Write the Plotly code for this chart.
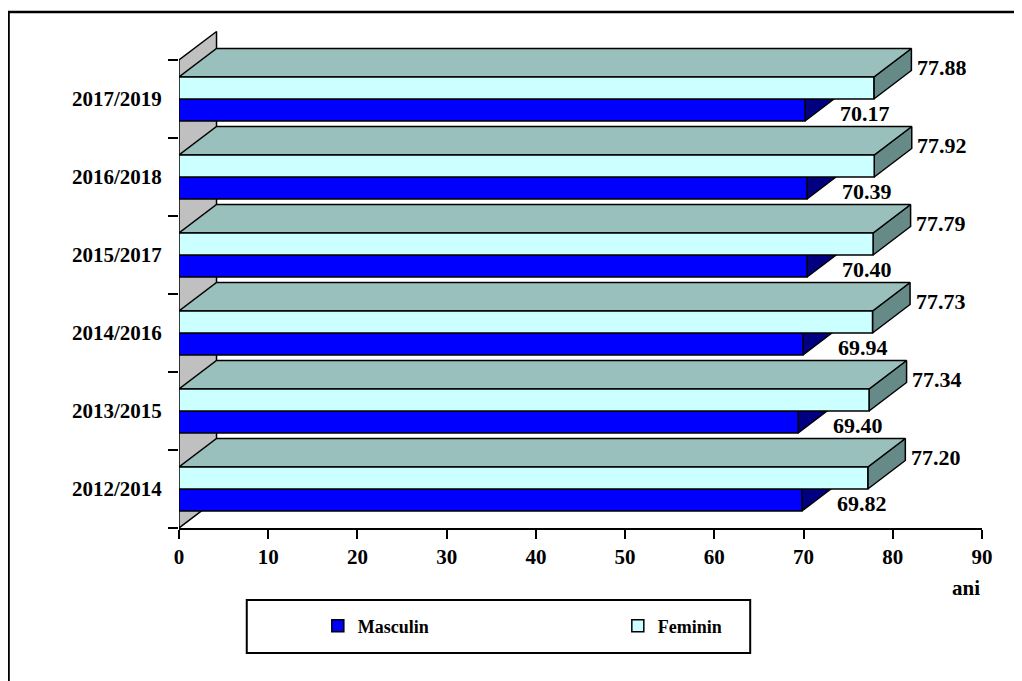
import plotly.graph_objects as go

# ---------------- data ----------------
categories = ["2012/2014", "2013/2015", "2014/2016", "2015/2017", "2016/2018", "2017/2019"]
masculin = [69.82, 69.40, 69.94, 70.40, 70.39, 70.17]
feminin = [77.20, 77.34, 77.73, 77.79, 77.92, 77.88]
x_ticks = [0, 10, 20, 30, 40, 50, 60, 70, 80, 90]
unit_label = "ani"

# ---------------- geometry (page pixels; page body has an 8px margin) ----------------
OFF = 8
W, H = 1022 - OFF, 681 - OFF
L, R, T, B = 179.3 - OFF, 981.6 - OFF, 20 - OFF, 528 - OFF
X_MAX = 90
Y_MIN = -0.5
UNIT_Y = 78.0                      # px per category
Y_MAX = Y_MIN + (B - T) / UNIT_Y
PX_X = (R - L) / X_MAX             # px per x unit
DX = 37.5 / PX_X                   # 3D depth offset (x units)
DY = 28.5 / UNIT_Y                 # 3D depth offset (category units)
BH = 22.0 / UNIT_Y                 # bar thickness (category units)

FONT = "Liberation Serif, Times New Roman, serif"

C_WALL = "#C0C0C0"
C_M_FRONT = "#0000FF"
C_M_SIDE = "#000080"
C_F_FRONT = "#CCFFFF"
C_F_TOP = "#99C0BD"
C_F_SIDE = "#658A87"


def px_to_paper_x(page_px):
    return (page_px - OFF - L) / (R - L)


def px_to_paper_y(page_py):
    return (B - (page_py - OFF)) / (B - T)


def polys(list_of_pts):
    xs, ys = [], []
    for pts in list_of_pts:
        for (x, y) in pts:
            xs.append(x)
            ys.append(y)
        xs.append(pts[0][0])
        ys.append(pts[0][1])
        xs.append(None)
        ys.append(None)
    return xs, ys


def face_trace(list_of_pts, color):
    xs, ys = polys(list_of_pts)
    return go.Scatter(x=xs, y=ys, mode="lines", fill="toself", fillcolor=color,
                      line=dict(color="black", width=1.5), hoverinfo="skip",
                      showlegend=False)


n = len(categories)
top_c = n - 0.5

wall = [[(0, Y_MIN), (0, top_c), (DX, top_c + DY), (DX, Y_MIN + DY)]]

m_side, m_front, f_side, f_top, f_front = [], [], [], [], []
for i in range(n):
    c = i
    vm = masculin[i]
    vf = feminin[i]
    m_side.append([(vm, c - BH), (vm, c), (vm + DX, c + DY), (vm + DX, c - BH + DY)])
    m_front.append([(0, c - BH), (vm, c - BH), (vm, c), (0, c)])
    f_side.append([(vf, c), (vf, c + BH), (vf + DX, c + BH + DY), (vf + DX, c + DY)])
    f_top.append([(0, c + BH), (vf, c + BH), (vf + DX, c + BH + DY), (DX, c + BH + DY)])
    f_front.append([(0, c), (vf, c), (vf, c + BH), (0, c + BH)])

fig = go.Figure()
fig.add_trace(face_trace(wall, C_WALL))
fig.add_trace(face_trace(m_side, C_M_SIDE))
fig.add_trace(face_trace(m_front, C_M_FRONT))
fig.add_trace(face_trace(f_side, C_F_SIDE))
fig.add_trace(face_trace(f_top, C_F_TOP))
fig.add_trace(face_trace(f_front, C_F_FRONT))

# legend-only entries
fig.add_trace(go.Bar(x=[None], y=[None], orientation="h", name="Masculin",
                     marker=dict(color=C_M_FRONT, line=dict(color="black", width=1.5))))
fig.add_trace(go.Bar(x=[None], y=[None], orientation="h", name="Feminin",
                     marker=dict(color=C_F_FRONT, line=dict(color="black", width=1.5))))

# dummy trace for boundary-tick axis
fig.add_trace(go.Scatter(x=[None], y=[None], yaxis="y2", showlegend=False, hoverinfo="skip"))

# value labels
lab_font = dict(family=FONT, size=22, color="black", weight="bold")
for i in range(n):
    fig.add_annotation(x=feminin[i] + 41 / PX_X, y=i + BH / 2 + 21 / UNIT_Y,
                       text=f"{feminin[i]:.2f}", showarrow=False, xanchor="left",
                       yanchor="middle", font=lab_font)
    fig.add_annotation(x=masculin[i] + 33 / PX_X, y=i - BH / 2 - 3 / UNIT_Y,
                       text=f"{masculin[i]:.2f}", showarrow=False, xanchor="left",
                       yanchor="middle", font=lab_font)

fig.add_annotation(x=px_to_paper_x(966), y=px_to_paper_y(588), xref="paper", yref="paper",
                   text=unit_label, showarrow=False, xanchor="center", yanchor="middle",
                   font=dict(family=FONT, size=21, color="black", weight="bold"))

# legend box and outer border
fig.add_shape(type="rect", xref="paper", yref="paper",
              x0=px_to_paper_x(247), x1=px_to_paper_x(750),
              y0=px_to_paper_y(600), y1=px_to_paper_y(653),
              line=dict(color="black", width=2), layer="below")
fig.add_shape(type="rect", xref="paper", yref="paper",
              x0=px_to_paper_x(9), x1=px_to_paper_x(1060),
              y0=px_to_paper_y(12), y1=px_to_paper_y(720),
              line=dict(color="black", width=2.5), layer="below")

fig.update_layout(
    width=W, height=H,
    margin=dict(l=L, r=W - R, t=T, b=H - B, pad=0),
    paper_bgcolor="white", plot_bgcolor="white",
    showlegend=True,
    legend=dict(orientation="h", x=px_to_paper_x(318), y=px_to_paper_y(626),
                xanchor="left", yanchor="middle", entrywidth=255, entrywidthmode="pixels",
                font=dict(family=FONT, size=18, color="black", weight="bold"),
                bgcolor="rgba(0,0,0,0)", borderwidth=0, traceorder="normal"),
    xaxis=dict(range=[0, X_MAX], tickvals=x_ticks, ticks="outside", ticklen=9, tickwidth=2,
               tickcolor="black", showline=True, linewidth=2, linecolor="black",
               showgrid=False, zeroline=False,
               tickfont=dict(family=FONT, size=21, color="black", weight="bold")),
    yaxis=dict(range=[Y_MIN, Y_MAX], tickvals=list(range(n)), ticktext=categories,
               ticks="outside", ticklen=12, tickcolor="rgba(0,0,0,0)",
               showline=False, showgrid=False, zeroline=False,
               tickfont=dict(family=FONT, size=21, color="black", weight="bold")),
    yaxis2=dict(range=[Y_MIN, Y_MAX], overlaying="y", side="left", anchor="x",
                tickvals=[i - 0.5 for i in range(n + 1)], ticks="outside", ticklen=10,
                tickwidth=2, tickcolor="black", showticklabels=False,
                showline=False, showgrid=False, zeroline=False),
)

fig.write_html("out.html")
